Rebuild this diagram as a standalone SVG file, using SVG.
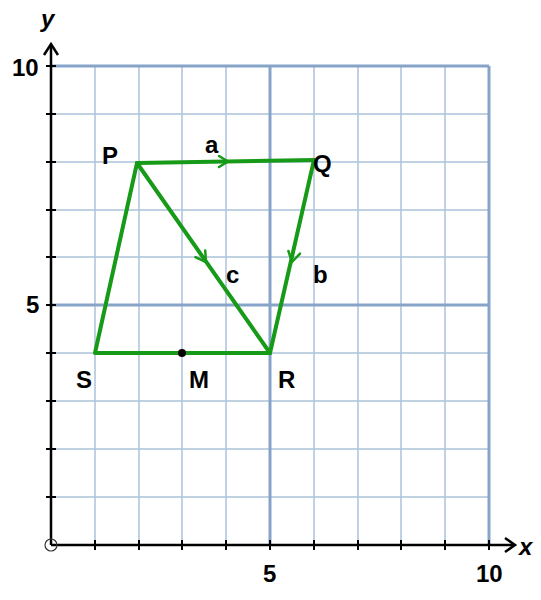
<svg xmlns="http://www.w3.org/2000/svg" width="541" height="600" viewBox="0 0 541 600">
<defs>
<style>
.g{stroke:#adc2dc;stroke-width:1.5;fill:none}
.gm{stroke:#86a3c8;stroke-width:3;fill:none}
.ax{stroke:#000;stroke-width:2.5;fill:none}
.tk{stroke:#000;stroke-width:2}
.v{stroke:#179a17;stroke-width:4;fill:none;stroke-linecap:round;stroke-linejoin:round}
.ah{stroke:#179a17;stroke-width:2.5;fill:none;stroke-linecap:round;stroke-linejoin:round}
.lb{font-family:"Liberation Sans",Arial,sans-serif;font-weight:bold;font-size:24px;fill:#000}
</style>
</defs>
<rect width="541" height="600" fill="#fff"/>
<g id="grid">
<path class="g" d="M95,66V545M139,66V545M182,66V545M226,66V545M314,66V545M358,66V545M401,66V545M445,66V545"/>
<path class="g" d="M51,114H489M51,162H489M51,210H489M51,257H489M51,353H489M51,401H489M51,449H489M51,497H489"/>
<path class="gm" d="M270,66V545M489,66V545M51,305H489M51,66H489"/>
</g>
<g id="axes">
<path class="ax" d="M51,545H514M51,545V45"/>
<path class="ax" d="M505,538L515,545L505,552M44,55L51,44L58,55"/>
<path class="tk" d="M95,540V550M139,540V550M182,540V550M226,540V550M270,540V550M314,540V550M358,540V550M401,540V550M445,540V550M489,540V550"/>
<path class="tk" d="M46,497H56M46,449H56M46,401H56M46,353H56M46,305H56M46,257H56M46,210H56M46,162H56M46,114H56M46,66H56"/>
<circle cx="51" cy="545" r="6" fill="none" stroke="#333" stroke-width="1.2"/>
<text x="41" y="27" class="lb" font-style="italic">y</text>
<text x="519" y="555" class="lb" font-style="italic">x</text>
<text x="12" y="76" class="lb">10</text>
<text x="26" y="313" class="lb">5</text>
<text x="263" y="582" class="lb">5</text>
<text x="476" y="582" class="lb">10</text>
</g>
<g id="connectors">
<path class="v" d="M137,163L314,160"/>
<path class="v" d="M137,163L270,353"/>
<path class="v" d="M314,160L270,353"/>
<path class="v" d="M137,163L95,353L270,353"/>
<path class="ah" d="M219,156L228,161.5L219,167"/>
<path class="ah" d="M195.4,257.2L206,262L205.2,250.4"/>
<path class="ah" d="M288.4,251L292,262L300,253.6"/>
</g>
<g id="node-P"><text x="102" y="164" class="lb">P</text></g>
<g id="node-Q"><text x="313" y="172" class="lb">Q</text></g>
<g id="node-R"><text x="278" y="388" class="lb">R</text></g>
<g id="node-S"><text x="76" y="388" class="lb">S</text></g>
<g id="node-M"><circle cx="182" cy="353" r="4" fill="#000"/><text x="189" y="388" class="lb">M</text></g>
<g id="labels">
<text x="205" y="153" class="lb">a</text>
<text x="226" y="283" class="lb">c</text>
<text x="313" y="283" class="lb">b</text>
</g>
</svg>
